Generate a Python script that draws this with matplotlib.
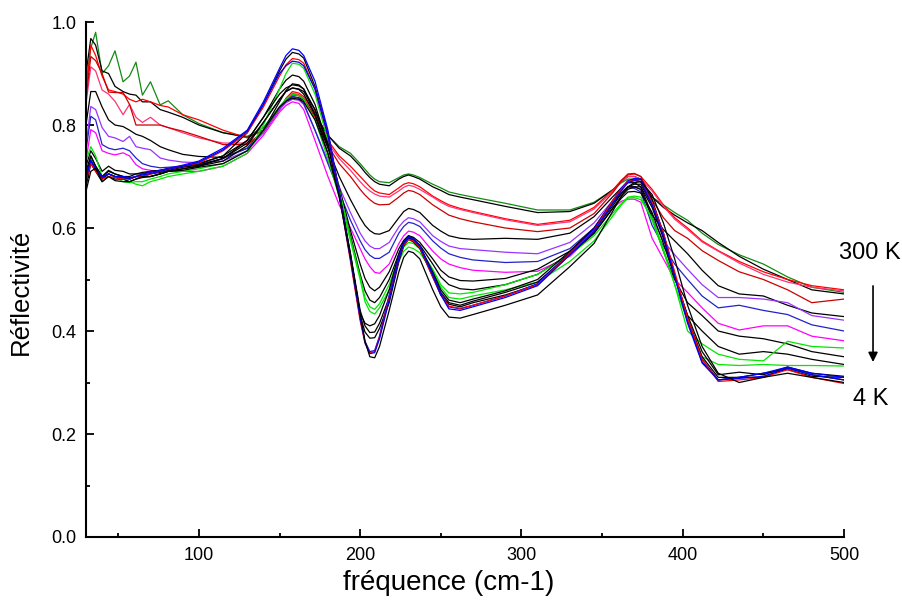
import matplotlib
matplotlib.use("Agg")
import matplotlib.pyplot as plt
from matplotlib.ticker import MultipleLocator

plt.rcParams['font.family'] = ['Liberation Sans', 'DejaVu Sans']

# frequences communes (cm-1)
freq = [30, 33, 36, 40, 44, 48, 53, 57, 61, 65,
        70, 76, 81, 90, 100, 115, 130, 140, 150, 154,
        158, 162, 165, 172, 180, 187, 194, 200, 203, 206,
        209, 212, 218, 224, 227, 230, 233, 237, 245, 250,
        255, 262, 270, 290, 310, 330, 345, 357, 362, 366,
        370, 374, 381, 388, 395, 403, 412, 422, 435, 450,
        465, 480, 500]

# --- courbes de 300 K (haut) a 4 K (bas) ---
r01 = [0.88, 0.95, 0.98, 0.90, 0.915, 0.944, 0.884, 0.895, 0.922, 0.858,
       0.884, 0.839, 0.847, 0.82, 0.803, 0.785, 0.778, 0.795, 0.835, 0.85,
       0.858, 0.857, 0.85, 0.82, 0.78, 0.758, 0.745, 0.725, 0.714, 0.703,
       0.695, 0.69, 0.688, 0.698, 0.703, 0.705, 0.703, 0.698, 0.685, 0.678,
       0.67, 0.665, 0.66, 0.648, 0.635, 0.635, 0.65, 0.675, 0.688, 0.695,
       0.695, 0.69, 0.66, 0.645, 0.63, 0.615, 0.59, 0.568, 0.548, 0.53,
       0.505, 0.485, 0.475]
r02 = [0.90, 0.968, 0.955, 0.905, 0.90, 0.875, 0.865, 0.86, 0.858, 0.845,
       0.845, 0.83, 0.825, 0.815, 0.80, 0.785, 0.776, 0.79, 0.83, 0.847,
       0.855, 0.853, 0.848, 0.82, 0.78, 0.755, 0.74, 0.72, 0.708, 0.698,
       0.69, 0.685, 0.682, 0.695, 0.70, 0.703, 0.70, 0.695, 0.68, 0.673,
       0.665, 0.66, 0.655, 0.642, 0.63, 0.632, 0.648, 0.675, 0.69, 0.70,
       0.70, 0.695, 0.66, 0.64, 0.625, 0.61, 0.595, 0.572, 0.545, 0.52,
       0.50, 0.48, 0.472]
r03 = [0.86, 0.955, 0.935, 0.895, 0.868, 0.865, 0.86, 0.85, 0.845, 0.85,
       0.845, 0.838, 0.835, 0.82, 0.81, 0.79, 0.775, 0.79, 0.83, 0.852,
       0.865, 0.862, 0.855, 0.825, 0.77, 0.74, 0.72, 0.70, 0.69, 0.68,
       0.672, 0.668, 0.665, 0.678, 0.685, 0.688, 0.686, 0.68, 0.662, 0.653,
       0.645, 0.638, 0.632, 0.618, 0.607, 0.615, 0.64, 0.675, 0.693, 0.703,
       0.705, 0.70, 0.675, 0.645, 0.62, 0.60, 0.575, 0.556, 0.535, 0.515,
       0.50, 0.488, 0.48]
r04 = [0.84, 0.913, 0.905, 0.868, 0.86, 0.846, 0.82, 0.84, 0.815, 0.805,
       0.815, 0.80, 0.795, 0.785, 0.775, 0.765, 0.765, 0.785, 0.83, 0.85,
       0.862, 0.859, 0.852, 0.82, 0.765, 0.735, 0.712, 0.69, 0.68, 0.672,
       0.666, 0.662, 0.66, 0.672, 0.679, 0.683, 0.681, 0.675, 0.66, 0.65,
       0.642, 0.636, 0.63, 0.616, 0.605, 0.612, 0.637, 0.672, 0.69, 0.70,
       0.70, 0.695, 0.672, 0.642, 0.617, 0.597, 0.573, 0.555, 0.532, 0.51,
       0.495, 0.485, 0.478]
r05 = [0.85, 0.933, 0.925, 0.90, 0.864, 0.863, 0.863, 0.84, 0.80, 0.80,
       0.80, 0.80, 0.795, 0.788, 0.778, 0.762, 0.762, 0.785, 0.83, 0.848,
       0.86, 0.857, 0.85, 0.815, 0.76, 0.725, 0.70, 0.675, 0.664, 0.655,
       0.648, 0.645, 0.646, 0.66, 0.668, 0.673, 0.671, 0.665, 0.645, 0.635,
       0.625, 0.618, 0.612, 0.60, 0.593, 0.60, 0.628, 0.67, 0.692, 0.705,
       0.706, 0.70, 0.655, 0.62, 0.595, 0.58, 0.556, 0.537, 0.515, 0.50,
       0.48, 0.455, 0.462]
r06 = [0.80, 0.865, 0.865, 0.835, 0.81, 0.80, 0.797, 0.79, 0.782, 0.778,
       0.77, 0.758, 0.752, 0.743, 0.739, 0.737, 0.755, 0.79, 0.845, 0.867,
       0.88, 0.878, 0.87, 0.82, 0.755, 0.70, 0.655, 0.62, 0.605, 0.595,
       0.589, 0.588, 0.595, 0.62, 0.632, 0.638, 0.636, 0.63, 0.605, 0.594,
       0.585, 0.58, 0.578, 0.58, 0.578, 0.59, 0.622, 0.662, 0.678, 0.688,
       0.688, 0.68, 0.625, 0.597, 0.575, 0.55, 0.518, 0.488, 0.472, 0.468,
       0.45, 0.435, 0.428]
r07 = [0.76, 0.836, 0.83, 0.795, 0.778, 0.775, 0.768, 0.778, 0.758, 0.755,
       0.752, 0.736, 0.732, 0.728, 0.727, 0.73, 0.75, 0.785, 0.83, 0.843,
       0.85, 0.848, 0.84, 0.79, 0.73, 0.68, 0.63, 0.59, 0.575, 0.565,
       0.56, 0.56, 0.572, 0.602, 0.613, 0.62, 0.618, 0.612, 0.585, 0.574,
       0.565, 0.56, 0.558, 0.553, 0.55, 0.572, 0.61, 0.655, 0.67, 0.68,
       0.68, 0.675, 0.62, 0.575, 0.548, 0.52, 0.49, 0.465, 0.465, 0.462,
       0.455, 0.43, 0.421]
r08 = [0.75, 0.817, 0.81, 0.762, 0.755, 0.752, 0.755, 0.75, 0.736, 0.725,
       0.72, 0.717, 0.718, 0.72, 0.723, 0.735, 0.755, 0.79, 0.835, 0.848,
       0.855, 0.852, 0.842, 0.79, 0.725, 0.67, 0.615, 0.575, 0.558, 0.547,
       0.541, 0.541, 0.553, 0.59, 0.603, 0.611, 0.609, 0.603, 0.575, 0.561,
       0.55, 0.543, 0.538, 0.533, 0.535, 0.56, 0.60, 0.65, 0.667, 0.678,
       0.677, 0.67, 0.605, 0.565, 0.53, 0.50, 0.468, 0.445, 0.45, 0.44,
       0.432, 0.412, 0.40]
r09 = [0.73, 0.791, 0.785, 0.75, 0.745, 0.742, 0.746, 0.74, 0.723, 0.715,
       0.712, 0.71, 0.71, 0.71, 0.71, 0.72, 0.745, 0.78, 0.825, 0.838,
       0.845, 0.842, 0.83, 0.77, 0.70, 0.645, 0.60, 0.56, 0.54, 0.525,
       0.514, 0.512, 0.53, 0.57, 0.585, 0.594, 0.592, 0.585, 0.555, 0.54,
       0.53, 0.523, 0.518, 0.514, 0.516, 0.545, 0.59, 0.64, 0.652, 0.656,
       0.656, 0.65, 0.58, 0.54, 0.50, 0.475, 0.445, 0.415, 0.402, 0.41,
       0.41, 0.39, 0.381]
r10 = [0.72, 0.75, 0.735, 0.71, 0.72, 0.712, 0.71, 0.705, 0.705, 0.705,
       0.71, 0.712, 0.715, 0.72, 0.725, 0.74, 0.77, 0.815, 0.87, 0.887,
       0.897, 0.894, 0.885, 0.84, 0.76, 0.68, 0.595, 0.53, 0.502, 0.485,
       0.478, 0.485, 0.515, 0.56, 0.576, 0.585, 0.582, 0.572, 0.54, 0.518,
       0.505, 0.498, 0.497, 0.502, 0.52, 0.555, 0.598, 0.65, 0.668, 0.68,
       0.68, 0.675, 0.62, 0.555, 0.50, 0.455, 0.43, 0.40, 0.39, 0.385,
       0.375, 0.36, 0.35]
r11 = [0.71, 0.74, 0.72, 0.70, 0.712, 0.705, 0.70, 0.695, 0.70, 0.70,
       0.70, 0.705, 0.71, 0.715, 0.72, 0.735, 0.765, 0.805, 0.85, 0.865,
       0.872, 0.869, 0.86, 0.82, 0.745, 0.665, 0.585, 0.51, 0.478, 0.46,
       0.455, 0.465, 0.50, 0.55, 0.57, 0.58, 0.577, 0.567, 0.53, 0.505,
       0.49, 0.482, 0.48, 0.49, 0.51, 0.55, 0.59, 0.64, 0.658, 0.67,
       0.671, 0.668, 0.63, 0.57, 0.505, 0.43, 0.40, 0.37, 0.355, 0.36,
       0.355, 0.345, 0.335]
r12 = [0.73, 0.758, 0.74, 0.70, 0.705, 0.70, 0.695, 0.69, 0.685, 0.682,
       0.69, 0.695, 0.70, 0.705, 0.71, 0.72, 0.745, 0.80, 0.87, 0.90,
       0.92, 0.918, 0.91, 0.86, 0.77, 0.675, 0.58, 0.505, 0.465, 0.447,
       0.442, 0.453, 0.49, 0.545, 0.563, 0.572, 0.57, 0.56, 0.52, 0.49,
       0.474, 0.472, 0.475, 0.49, 0.51, 0.548, 0.585, 0.63, 0.648, 0.66,
       0.662, 0.66, 0.615, 0.555, 0.49, 0.40, 0.375, 0.355, 0.345, 0.342,
       0.38, 0.37, 0.367]
r13 = [0.70, 0.735, 0.715, 0.695, 0.705, 0.70, 0.69, 0.688, 0.69, 0.69,
       0.695, 0.70, 0.705, 0.71, 0.715, 0.725, 0.75, 0.79, 0.835, 0.85,
       0.86, 0.857, 0.85, 0.81, 0.735, 0.66, 0.575, 0.50, 0.457, 0.438,
       0.433, 0.445, 0.48, 0.535, 0.555, 0.563, 0.56, 0.552, 0.515, 0.485,
       0.465, 0.462, 0.468, 0.48, 0.495, 0.535, 0.575, 0.625, 0.645, 0.658,
       0.659, 0.655, 0.62, 0.56, 0.49, 0.42, 0.35, 0.335, 0.333, 0.335,
       0.333, 0.333, 0.332]
r14 = [0.70, 0.74, 0.72, 0.70, 0.71, 0.705, 0.70, 0.70, 0.705, 0.708,
       0.71, 0.712, 0.715, 0.72, 0.725, 0.74, 0.785, 0.84, 0.905, 0.928,
       0.941, 0.938, 0.93, 0.875, 0.785, 0.67, 0.545, 0.435, 0.415, 0.41,
       0.414, 0.43, 0.48, 0.55, 0.575, 0.585, 0.58, 0.565, 0.515, 0.48,
       0.46, 0.455, 0.462, 0.478, 0.50, 0.555, 0.60, 0.655, 0.676, 0.69,
       0.695, 0.695, 0.655, 0.59, 0.51, 0.42, 0.345, 0.305, 0.31, 0.31,
       0.328, 0.315, 0.305]
r15 = [0.69, 0.73, 0.715, 0.695, 0.705, 0.70, 0.698, 0.695, 0.70, 0.70,
       0.705, 0.708, 0.712, 0.718, 0.722, 0.735, 0.77, 0.815, 0.86, 0.872,
       0.878, 0.876, 0.87, 0.83, 0.76, 0.665, 0.55, 0.44, 0.41, 0.397,
       0.398, 0.415, 0.465, 0.54, 0.568, 0.58, 0.576, 0.562, 0.51, 0.475,
       0.455, 0.45, 0.458, 0.475, 0.495, 0.55, 0.595, 0.645, 0.667, 0.68,
       0.685, 0.685, 0.645, 0.585, 0.51, 0.425, 0.35, 0.31, 0.31, 0.318,
       0.325, 0.312, 0.31]
r16 = [0.68, 0.725, 0.71, 0.69, 0.70, 0.695, 0.695, 0.69, 0.695, 0.698,
       0.70, 0.705, 0.71, 0.715, 0.72, 0.73, 0.76, 0.805, 0.85, 0.865,
       0.872, 0.87, 0.865, 0.83, 0.765, 0.67, 0.55, 0.43, 0.398, 0.386,
       0.387, 0.405, 0.455, 0.535, 0.565, 0.578, 0.573, 0.56, 0.505, 0.47,
       0.452, 0.447, 0.455, 0.47, 0.49, 0.548, 0.59, 0.64, 0.662, 0.675,
       0.68, 0.68, 0.64, 0.58, 0.505, 0.43, 0.36, 0.315, 0.32, 0.315,
       0.33, 0.318, 0.312]
r17 = [0.70, 0.73, 0.715, 0.70, 0.705, 0.70, 0.70, 0.698, 0.70, 0.705,
       0.708, 0.712, 0.716, 0.722, 0.73, 0.755, 0.79, 0.845, 0.91, 0.935,
       0.948, 0.945, 0.935, 0.885, 0.79, 0.67, 0.54, 0.425, 0.38, 0.36,
       0.362, 0.39, 0.47, 0.545, 0.572, 0.583, 0.58, 0.565, 0.51, 0.473,
       0.447, 0.443, 0.45, 0.468, 0.492, 0.552, 0.598, 0.655, 0.678, 0.692,
       0.696, 0.695, 0.65, 0.59, 0.51, 0.42, 0.34, 0.305, 0.31, 0.318,
       0.33, 0.318, 0.31]
r18 = [0.69, 0.726, 0.71, 0.695, 0.70, 0.698, 0.695, 0.695, 0.70, 0.70,
       0.705, 0.71, 0.714, 0.72, 0.726, 0.75, 0.785, 0.835, 0.895, 0.917,
       0.929, 0.927, 0.92, 0.87, 0.78, 0.665, 0.535, 0.42, 0.376, 0.358,
       0.36, 0.388, 0.465, 0.54, 0.567, 0.578, 0.575, 0.562, 0.505, 0.47,
       0.448, 0.444, 0.45, 0.468, 0.49, 0.55, 0.595, 0.655, 0.676, 0.69,
       0.693, 0.69, 0.65, 0.59, 0.515, 0.425, 0.345, 0.302, 0.305, 0.31,
       0.325, 0.31, 0.298]
r19 = [0.695, 0.732, 0.715, 0.698, 0.705, 0.70, 0.698, 0.696, 0.70, 0.703,
       0.706, 0.71, 0.714, 0.72, 0.728, 0.752, 0.788, 0.84, 0.90, 0.915,
       0.924, 0.922, 0.915, 0.87, 0.78, 0.665, 0.54, 0.425, 0.378, 0.356,
       0.358, 0.385, 0.46, 0.54, 0.57, 0.582, 0.578, 0.565, 0.508, 0.47,
       0.443, 0.44, 0.447, 0.465, 0.488, 0.548, 0.593, 0.65, 0.673, 0.688,
       0.692, 0.69, 0.645, 0.585, 0.505, 0.415, 0.338, 0.305, 0.308, 0.312,
       0.328, 0.315, 0.305]
r20 = [0.671, 0.71, 0.716, 0.69, 0.70, 0.692, 0.69, 0.69, 0.695, 0.70,
       0.70, 0.705, 0.71, 0.712, 0.718, 0.725, 0.75, 0.79, 0.835, 0.846,
       0.852, 0.85, 0.845, 0.81, 0.745, 0.66, 0.545, 0.435, 0.38, 0.35,
       0.348, 0.37, 0.44, 0.515, 0.543, 0.555, 0.552, 0.54, 0.48, 0.447,
       0.427, 0.425, 0.432, 0.45, 0.47, 0.525, 0.57, 0.635, 0.662, 0.68,
       0.688, 0.69, 0.665, 0.61, 0.54, 0.45, 0.37, 0.318, 0.30, 0.31,
       0.318, 0.31, 0.30]

courbes = [r01, r02, r03, r04, r05, r06, r07, r08, r09, r10, r11, r12, r13, r14, r15, r16, r17, r18, r19, r20]
couleurs = ['#138a13', 'black', '#ff0000', '#ff3377', '#cc0000', 'black', '#9933ff', '#2222cc', '#ff00ff', 'black',
            'black', '#00e600', '#00e600', 'black', 'black', 'black', '#0000ff', '#ff0000', '#0000ee', 'black']

fig = plt.figure(figsize=(9.03, 6.05), dpi=100)
ax = fig.add_axes([0.0952, 0.1124, 0.8395, 0.8512])

for y, c in zip(courbes, couleurs):
    ax.plot(freq, y, color=c, lw=0.9)

ax.set_xlim(30, 500)
ax.set_ylim(0, 1.0)
ax.xaxis.set_major_locator(MultipleLocator(100))
ax.xaxis.set_minor_locator(MultipleLocator(50))
ax.yaxis.set_major_locator(MultipleLocator(0.2))
ax.yaxis.set_minor_locator(MultipleLocator(0.1))
ax.yaxis.set_major_formatter(plt.FuncFormatter(lambda v, p: f"{v:.1f}"))

# style Origin : pas de cadre haut/droite, ticks vers l'interieur
ax.spines['top'].set_visible(False)
ax.spines['right'].set_visible(False)
for s in ['left', 'bottom']:
    ax.spines[s].set_linewidth(1.5)
ax.tick_params(which='major', direction='in', length=6, width=1.3, labelsize=13, pad=7)
ax.tick_params(which='minor', direction='in', length=3, width=1.3)

ax.set_xlabel('fréquence (cm-1)', fontsize=20)
ax.set_ylabel('Réflectivité', fontsize=18.5)
ax.xaxis.set_label_coords(0.478, -0.064)
ax.yaxis.set_label_coords(-0.07, 0.476)

# annotation temperature
fig.text(0.963, 0.581, '300 K', fontsize=17, ha='center', va='center')
fig.text(0.9646, 0.340, '4 K', fontsize=17, ha='center', va='center')
ax.annotate('', xy=(0.9668, 0.397), xytext=(0.9668, 0.532), xycoords='figure fraction',
            textcoords='figure fraction', annotation_clip=False,
            arrowprops=dict(arrowstyle='-|>', color='black', lw=1.2, mutation_scale=14))

plt.savefig('out.png', dpi=100)
